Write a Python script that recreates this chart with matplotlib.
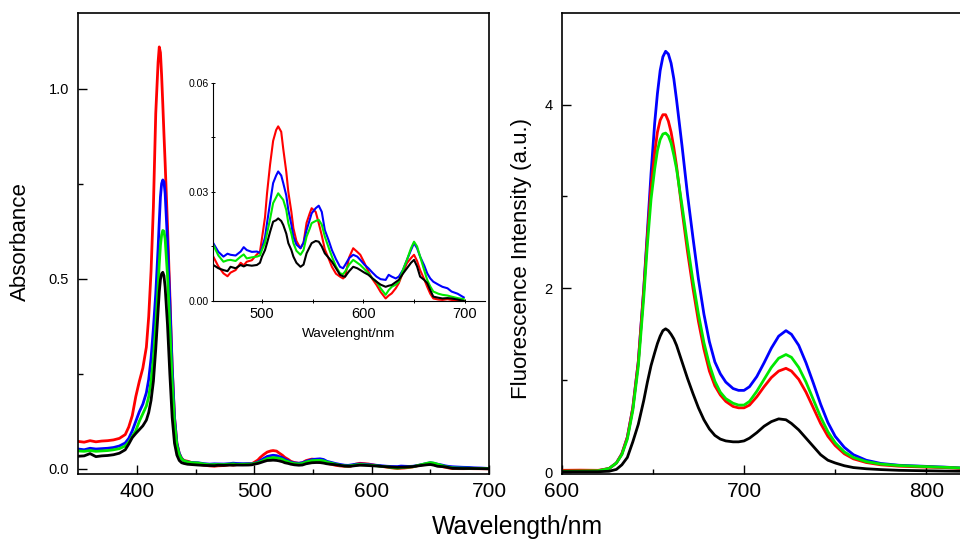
import numpy as np
import matplotlib
matplotlib.use("Agg")
import matplotlib.pyplot as plt
from matplotlib.ticker import FixedLocator, FormatStrFormatter

plt.rcParams['font.family'] = ['Liberation Sans', 'DejaVu Sans']

# ---------------- Absorbance data ----------------
wl_soret = [350, 355, 360, 365, 370, 375, 380, 385, 390, 393, 396, 399, 402, 405, 408,
            410, 412, 414, 416, 418, 419, 420, 421, 422, 423, 424, 426, 428, 430, 432,
            434, 436, 438, 440]
abs_red_soret = [0.072, 0.070, 0.074, 0.071, 0.073, 0.074, 0.076, 0.080, 0.090, 0.110, 0.140,
                 0.190, 0.230, 0.265, 0.320, 0.400, 0.520, 0.690, 0.935, 1.070, 1.110, 1.095,
                 1.035, 0.960, 0.880, 0.805, 0.640, 0.460, 0.270, 0.135, 0.068, 0.041, 0.028, 0.022]
abs_blue_soret = [0.052, 0.050, 0.054, 0.052, 0.053, 0.054, 0.056, 0.060, 0.068, 0.080, 0.100,
                  0.125, 0.150, 0.170, 0.200, 0.235, 0.290, 0.370, 0.460, 0.580, 0.650, 0.715,
                  0.750, 0.760, 0.755, 0.725, 0.600, 0.440, 0.265, 0.135, 0.067, 0.041, 0.027, 0.021]
abs_green_soret = [0.047, 0.046, 0.048, 0.046, 0.047, 0.048, 0.050, 0.053, 0.060, 0.070, 0.085,
                   0.100, 0.125, 0.145, 0.165, 0.190, 0.230, 0.290, 0.375, 0.480, 0.540, 0.588,
                   0.615, 0.627, 0.625, 0.605, 0.510, 0.375, 0.230, 0.120, 0.062, 0.038, 0.026, 0.021]
abs_black_soret = [0.033, 0.034, 0.040, 0.032, 0.034, 0.035, 0.037, 0.041, 0.050, 0.065, 0.082,
                   0.093, 0.103, 0.113, 0.128, 0.148, 0.180, 0.230, 0.315, 0.415, 0.465, 0.498,
                   0.513, 0.517, 0.508, 0.478, 0.380, 0.250, 0.135, 0.067, 0.036, 0.022, 0.016, 0.014]

wl_q = [443, 447, 452, 457, 462, 466, 469, 474, 479, 482,
        485, 490, 495, 498, 500, 503, 505, 508, 511, 514,
        516, 519, 521, 524, 526, 529, 531, 534, 538, 541,
        544, 547, 549, 553, 556, 559, 562, 566, 569, 573,
        577, 580, 582, 586, 590, 594, 597, 601, 605, 609,
        613, 617, 622, 625, 628, 632, 635, 639, 643, 647,
        650, 653, 656, 660, 663, 666, 669, 674, 678, 683,
        687, 693, 699]
abs_red_q = [0.020, 0.016, 0.0122, 0.0095, 0.0076, 0.0068, 0.0078, 0.0085, 0.0105, 0.0098,
             0.0108, 0.0112, 0.0128, 0.0135, 0.0172, 0.0230, 0.0296, 0.0375, 0.0440, 0.0470,
             0.0480, 0.0465, 0.0418, 0.0355, 0.0300, 0.0245, 0.0200, 0.0165, 0.0145, 0.0160,
             0.0215, 0.0240, 0.0255, 0.0245, 0.0214, 0.0180, 0.0142, 0.0115, 0.0094, 0.0075,
             0.0067, 0.0062, 0.0067, 0.0120, 0.0145, 0.0135, 0.0127, 0.0105, 0.0081, 0.0060,
             0.0044, 0.0025, 0.0007, 0.0015, 0.0021, 0.0035, 0.0049, 0.0078, 0.0104, 0.0118,
             0.0127, 0.0110, 0.0085, 0.0060, 0.0039, 0.0020, 0.0007, 0.0004, 0.0003, 0.0005,
             0.0003, 0.0002, 0.0000]
abs_blue_q = [0.018, 0.0165, 0.0159, 0.0135, 0.0122, 0.0130, 0.0127, 0.0125, 0.0136, 0.0148,
              0.0140, 0.0135, 0.0136, 0.0132, 0.0145, 0.0175, 0.0214, 0.0270, 0.0324, 0.0345,
              0.0356, 0.0345, 0.0324, 0.0290, 0.0250, 0.0210, 0.0177, 0.0155, 0.0145, 0.0160,
              0.0195, 0.0222, 0.0241, 0.0255, 0.0262, 0.0245, 0.0195, 0.0165, 0.0140, 0.0115,
              0.0094, 0.0090, 0.0099, 0.0118, 0.0127, 0.0122, 0.0113, 0.0100, 0.0090, 0.0078,
              0.0067, 0.0060, 0.0058, 0.0072, 0.0067, 0.0062, 0.0067, 0.0085, 0.0113, 0.0140,
              0.0159, 0.0145, 0.0122, 0.0098, 0.0076, 0.0062, 0.0053, 0.0045, 0.0039, 0.0035,
              0.0026, 0.0020, 0.0010]
abs_green_q = [0.018, 0.016, 0.0154, 0.0125, 0.0108, 0.0112, 0.0113, 0.0110, 0.0122, 0.0128,
               0.0117, 0.0120, 0.0122, 0.0125, 0.0140, 0.0160, 0.0186, 0.0225, 0.0269, 0.0285,
               0.0296, 0.0285, 0.0278, 0.0250, 0.0214, 0.0185, 0.0159, 0.0138, 0.0127, 0.0140,
               0.0177, 0.0198, 0.0214, 0.0220, 0.0223, 0.0210, 0.0177, 0.0145, 0.0122, 0.0095,
               0.0076, 0.0074, 0.0081, 0.0100, 0.0113, 0.0105, 0.0099, 0.0088, 0.0076, 0.0062,
               0.0053, 0.0035, 0.0017, 0.0030, 0.0039, 0.0045, 0.0053, 0.0085, 0.0113, 0.0145,
               0.0163, 0.0150, 0.0122, 0.0085, 0.0058, 0.0040, 0.0026, 0.0020, 0.0017, 0.0015,
               0.0012, 0.0008, 0.0005]
abs_black_q = [0.012, 0.011, 0.0099, 0.0090, 0.0085, 0.0082, 0.0094, 0.0090, 0.0099, 0.0095,
               0.0099, 0.0097, 0.0099, 0.0105, 0.0122, 0.0140, 0.0159, 0.0190, 0.0218, 0.0222,
               0.0227, 0.0220, 0.0209, 0.0185, 0.0159, 0.0140, 0.0122, 0.0105, 0.0094, 0.0100,
               0.0131, 0.0148, 0.0159, 0.0165, 0.0163, 0.0150, 0.0131, 0.0118, 0.0108, 0.0090,
               0.0072, 0.0068, 0.0067, 0.0082, 0.0094, 0.0090, 0.0085, 0.0078, 0.0072, 0.0062,
               0.0053, 0.0045, 0.0039, 0.0042, 0.0044, 0.0052, 0.0058, 0.0075, 0.0090, 0.0105,
               0.0113, 0.0095, 0.0067, 0.0058, 0.0049, 0.0030, 0.0012, 0.0009, 0.0007, 0.0008,
               0.0007, 0.0004, 0.0000]

# ---------------- Fluorescence data ----------------
wl_fl = [600, 610, 620, 626, 630, 633, 636, 639, 642, 645, 647, 649, 651, 652.5, 654, 655.5,
         657, 658.5, 660, 661.5, 663, 666, 669, 672, 675, 678, 681, 684, 687, 690, 694, 697,
         700, 703, 707, 711, 715, 719, 723, 726, 730, 734, 738, 742, 746, 750, 755, 760, 767,
         775, 785, 800, 810, 820, 830]
fl_blue = [0.01, 0.012, 0.015, 0.04, 0.10, 0.20, 0.38, 0.70, 1.20, 2.00, 2.62, 3.25, 3.80, 4.12,
           4.37, 4.52, 4.58, 4.55, 4.45, 4.28, 4.05, 3.55, 3.02, 2.55, 2.10, 1.72, 1.42, 1.20,
           1.07, 0.98, 0.91, 0.89, 0.89, 0.93, 1.04, 1.19, 1.35, 1.48, 1.54, 1.50, 1.38, 1.19,
           0.97, 0.74, 0.54, 0.39, 0.27, 0.19, 0.13, 0.095, 0.075, 0.063, 0.055, 0.045, 0.04]
fl_red = [0.02, 0.022, 0.02, 0.04, 0.10, 0.20, 0.38, 0.70, 1.20, 1.98, 2.57, 3.10, 3.48, 3.70,
          3.83, 3.89, 3.89, 3.82, 3.70, 3.53, 3.33, 2.85, 2.40, 2.00, 1.64, 1.34, 1.10, 0.94,
          0.84, 0.77, 0.715, 0.70, 0.70, 0.73, 0.82, 0.93, 1.03, 1.10, 1.13, 1.10, 1.01, 0.87,
          0.70, 0.53, 0.39, 0.29, 0.20, 0.145, 0.105, 0.08, 0.065, 0.055, 0.05, 0.04, 0.035]
fl_green = [0.01, 0.012, 0.015, 0.04, 0.10, 0.19, 0.36, 0.67, 1.15, 1.90, 2.48, 2.97, 3.30, 3.50,
            3.62, 3.68, 3.69, 3.66, 3.58, 3.45, 3.30, 2.90, 2.48, 2.08, 1.72, 1.41, 1.17, 0.99,
            0.87, 0.80, 0.75, 0.73, 0.73, 0.77, 0.88, 1.01, 1.14, 1.24, 1.28, 1.25, 1.14, 0.98,
            0.79, 0.60, 0.44, 0.32, 0.22, 0.16, 0.115, 0.088, 0.072, 0.06, 0.053, 0.045, 0.04]
fl_black = [0.005, 0.005, 0.005, 0.01, 0.03, 0.08, 0.16, 0.33, 0.52, 0.78, 0.98, 1.16, 1.30, 1.40,
            1.48, 1.54, 1.56, 1.54, 1.50, 1.45, 1.38, 1.20, 1.02, 0.855, 0.70, 0.57, 0.47, 0.40,
            0.36, 0.34, 0.33, 0.33, 0.34, 0.37, 0.43, 0.50, 0.55, 0.58, 0.57, 0.53, 0.46, 0.37,
            0.28, 0.19, 0.13, 0.10, 0.07, 0.05, 0.037, 0.028, 0.02, 0.015, 0.012, 0.01, 0.01]

RED, BLUE, GREEN, BLACK = '#ff0000', '#0000ff', '#00e800', '#000000'

wl_abs = np.concatenate([wl_soret, wl_q])
abs_series = [
    (np.concatenate([abs_red_soret, abs_red_q]), RED),
    (np.concatenate([abs_blue_soret, abs_blue_q]), BLUE),
    (np.concatenate([abs_green_soret, abs_green_q]), GREEN),
    (np.concatenate([abs_black_soret, abs_black_q]), BLACK),
]
fl_series = [(fl_blue, BLUE), (fl_red, RED), (fl_green, GREEN), (fl_black, BLACK)]

W, H = 960, 539
fig = plt.figure(figsize=(W / 100, H / 100), dpi=100)


def rect(x0, y0, x1, y1):
    return [x0 / W, 1 - y1 / H, (x1 - x0) / W, (y1 - y0) / H]


def style_main(ax):
    for s in ax.spines.values():
        s.set_linewidth(1.2)
    ax.tick_params(which='both', direction='in', width=1.0, top=False, right=False)
    ax.tick_params(which='major', length=6.8)
    ax.tick_params(which='minor', length=3.8)
    ax.tick_params(axis='x', which='major', labelsize=15, pad=5.8)
    ax.tick_params(axis='y', which='major', labelsize=10.5, pad=6.7)


# ---- left panel: absorbance ----
ax1 = fig.add_axes(rect(78.3, 12.7, 489, 474))
for y, c in abs_series:
    ax1.plot(wl_abs, y, color=c, lw=2.0)
ax1.set_xlim(350, 700)
ax1.set_ylim(-0.0137, 1.2)
ax1.xaxis.set_major_locator(FixedLocator([400, 500, 600, 700]))
ax1.xaxis.set_minor_locator(FixedLocator([450, 550, 650]))
ax1.yaxis.set_major_locator(FixedLocator([0.0, 0.5, 1.0]))
ax1.yaxis.set_minor_locator(FixedLocator([0.25, 0.75]))
ax1.yaxis.set_major_formatter(FormatStrFormatter('%.1f'))
style_main(ax1)

# ---- inset ----
axi = fig.add_axes(rect(213.3, 82.7, 485, 301))
axi.patch.set_alpha(0)
for y, c in abs_series:
    axi.plot(wl_abs, y, color=c, lw=1.5)
axi.set_xlim(452, 720)
axi.set_ylim(0, 0.06)
axi.spines['top'].set_visible(False)
axi.spines['right'].set_visible(False)
for s in ['left', 'bottom']:
    axi.spines[s].set_linewidth(0.8)
axi.xaxis.set_major_locator(FixedLocator([500, 600, 700]))
axi.xaxis.set_minor_locator(FixedLocator([550, 650]))
axi.yaxis.set_major_locator(FixedLocator([0.0, 0.03, 0.06]))
axi.yaxis.set_minor_locator(FixedLocator([0.015, 0.045]))
axi.yaxis.set_major_formatter(FormatStrFormatter('%.2f'))
axi.tick_params(which='both', direction='inout', width=0.7)
axi.tick_params(which='major', length=3.5)
axi.tick_params(which='minor', length=2.5)
axi.tick_params(axis='x', labelsize=10.5, pad=2.5)
axi.tick_params(axis='y', labelsize=7.6, pad=1.5)
fig.text(348.7 / W, 1 - 334 / H, 'Wavelenght/nm', fontsize=9.7, ha='center', va='center')

# ---- right panel: fluorescence ----
ax2 = fig.add_axes(rect(561.7, 12.7, 561.7 + 230 * 1.8233, 474))
for y, c in fl_series:
    ax2.plot(wl_fl, y, color=c, lw=2.0)
ax2.set_xlim(600, 830)
ax2.set_ylim(-0.02, 5.0)
ax2.xaxis.set_major_locator(FixedLocator([600, 700, 800]))
ax2.xaxis.set_minor_locator(FixedLocator([650, 750]))
ax2.yaxis.set_major_locator(FixedLocator([0, 2, 4]))
ax2.yaxis.set_minor_locator(FixedLocator([1, 3]))
style_main(ax2)

# ---- labels ----
fig.text(20 / W, 1 - 241.6 / H, 'Absorbance', rotation=90, fontsize=16, ha='center', va='center')
fig.text(521.5 / W, 1 - 258.8 / H, 'Fluorescence Intensity (a.u.)', rotation=90, fontsize=16,
         ha='center', va='center')
fig.text(517.5 / W, (H - 533.7) / H, 'Wavelength/nm', fontsize=17.8, ha='center', va='baseline')

fig.savefig('out.png', dpi=100)
